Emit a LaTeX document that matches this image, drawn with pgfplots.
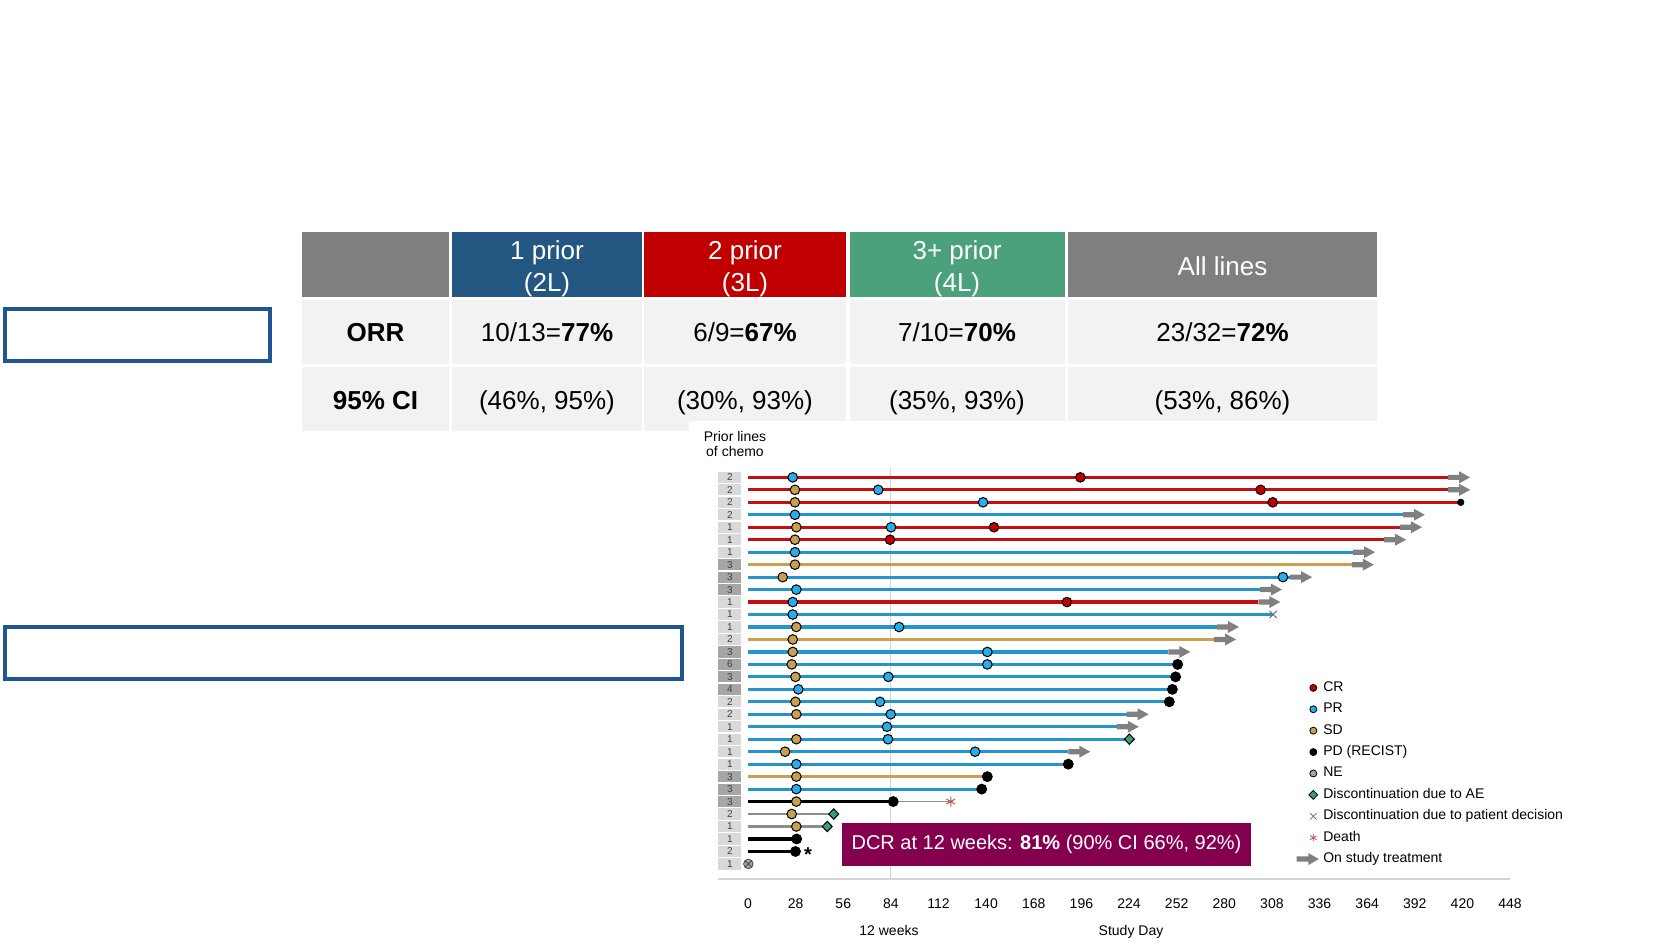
\documentclass[border=0pt]{standalone}
\usepackage{pgfplots}
\pgfplotsset{compat=1.18}
\usetikzlibrary{plotmarks}
\usepackage{fontspec}
\setmainfont{Liberation Sans}

\definecolor{crred}{HTML}{C00000}
\definecolor{prblue}{HTML}{2AACE8}
\definecolor{sdgold}{HTML}{C9A04F}
\definecolor{negray}{HTML}{A6A6A6}
\definecolor{lnred}{HTML}{C41010}
\definecolor{lnblue}{HTML}{2394CE}
\definecolor{lngold}{HTML}{C9A050}
\definecolor{lngray}{HTML}{8C8C8C}
\definecolor{arrgray}{HTML}{808080}
\definecolor{aegreen}{HTML}{3F9B76}
\definecolor{deathred}{HTML}{C0504D}
\definecolor{dcrpurple}{HTML}{84004F}
\definecolor{boxblue}{HTML}{1F5591}
\definecolor{pllight}{HTML}{D9D9D9}
\definecolor{pldark}{HTML}{A6A6A6}
\definecolor{axgray}{HTML}{D4D4D4}
\definecolor{hdgray}{HTML}{7F7F7F}
\definecolor{hdblue}{HTML}{245682}
\definecolor{hdred}{HTML}{C00000}
\definecolor{hdgreen}{HTML}{4BA17C}
\definecolor{cellgray}{HTML}{F2F2F2}

% block arrow for "on study treatment"
\pgfdeclareplotmark{onstudy}{%
  \pgfpathmoveto{\pgfpoint{0pt}{1.3pt}}%
  \pgfpathlineto{\pgfpoint{5.5pt}{1.3pt}}%
  \pgfpathlineto{\pgfpoint{5.5pt}{3pt}}%
  \pgfpathlineto{\pgfpoint{11pt}{0pt}}%
  \pgfpathlineto{\pgfpoint{5.5pt}{-3pt}}%
  \pgfpathlineto{\pgfpoint{5.5pt}{-1.3pt}}%
  \pgfpathlineto{\pgfpoint{0pt}{-1.3pt}}%
  \pgfpathclose
  \pgfusepathqfill}

% prior-lines label boxes
\newcommand{\plin}[1]{\parbox[c][5.6pt][c]{11.5pt}{\centering\fontsize{5}{5}\selectfont\color{black!75}#1}}
\newcommand{\pl}[1]{{\setlength{\fboxsep}{0pt}\ifnum#1>2\relax\colorbox{pldark}{\plin{#1}}\else\colorbox{pllight}{\plin{#1}}\fi}}
% fixed legend image frame
\newcommand{\lgbox}{\path[draw=none,fill=none] (-8.3pt,-3pt) rectangle (3pt,3pt);}

\begin{document}
\begin{tikzpicture}
\useasboundingbox (0,0) rectangle (840pt,-472.5pt);
\fill[white] (0,0) rectangle (840pt,-472.5pt);

\begin{scope}[x=0.5pt,y=-0.5pt]
% left outline boxes
\draw[boxblue, line width=1.7pt] (5,309) rectangle (270,361);
\draw[boxblue, line width=1.7pt] (5,627) rectangle (682,679);
% table
\fill[hdgray]  (302,232) rectangle (449,297);
\fill[hdblue]  (452,232) rectangle (642,297);
\fill[hdred]   (644,232) rectangle (846,297);
\fill[hdgreen] (850,232) rectangle (1065,297);
\fill[hdgray]  (1068,232) rectangle (1377,297);
\foreach \a/\b in {302/449,452/642,644/846,850/1065,1068/1377}{
  \fill[cellgray] (\a,300) rectangle (\b,364);
  \fill[cellgray] (\a,367) rectangle (\b,431);
}
\fill[white] (689,421) rectangle (1380,433);
\begin{scope}[every node/.style={font=\fontsize{13}{15}\selectfont, anchor=base, inner sep=0pt}]
\node[white] at (547,259.5) {1 prior};
\node[white] at (547,291.5) {(2L)};
\node[white] at (745,259.5) {2 prior};
\node[white] at (745,291.5) {(3L)};
\node[white] at (957,259.5) {3+ prior};
\node[white] at (957,291.5) {(4L)};
\node[white] at (1222.5,275.7) {All lines};
\node at (375.5,341.7) {\textbf{ORR}};
\node at (547,341.7) {10/13=\textbf{77\%}};
\node at (745,341.7) {6/9=\textbf{67\%}};
\node at (957,341.7) {7/10=\textbf{70\%}};
\node at (1222.5,341.7) {23/32=\textbf{72\%}};
\node at (375.5,410) {\textbf{95\% CI}};
\node at (547,410) {(46\%, 95\%)};
\node at (745,410) {(30\%, 93\%)};
\node at (957,410) {(35\%, 93\%)};
\node at (1222.5,410) {(53\%, 86\%)};
\end{scope}
\node[align=center, font=\fontsize{7}{7.5}\selectfont, inner sep=0pt] at (735,444) {Prior lines\\of chemo};
\end{scope}

\begin{axis}[
  at={(359pt,-232.45pt)}, anchor=north west,
  scale only axis, width=396pt, height=206.8pt,
  xmin=-17.64, xmax=448, ymin=-33.17, ymax=0,
  axis x line*=bottom, axis y line*=left,
  x axis line style={-, draw=axgray, line width=1pt},
  y axis line style={draw=none},
  xtick={0,28,...,448},
  ytick={-32,-31,...,-1},
  yticklabels={\pl{1},\pl{2},\pl{1},\pl{1},\pl{2},\pl{3},\pl{3},\pl{3},\pl{1},\pl{1},\pl{1},\pl{1},\pl{2},\pl{2},\pl{4},\pl{3},\pl{6},\pl{3},\pl{2},\pl{1},\pl{1},\pl{1},\pl{3},\pl{3},\pl{3},\pl{1},\pl{1},\pl{1},\pl{2},\pl{2},\pl{2},\pl{2}},
  major tick length=0pt,
  xticklabel style={font=\fontsize{7}{8}\selectfont, yshift=-6.75pt},
  yticklabel style={anchor=west, inner sep=0pt},
  /pgf/number format/assume math mode=true,
  unbounded coords=jump,
  clip=false,
  legend cell align=left,
  legend style={at={(axis cs:322.6,-17.2)}, anchor=north west, draw=none, fill=none,
    inner sep=0pt, outer sep=0pt, font=\fontsize{7}{8}\selectfont,
    row sep=2.2pt, column sep=1pt,
    nodes={inner sep=1pt, text height=5pt, text depth=1.5pt}},
]
% 12 week reference line
\addplot[forget plot, draw=axgray, line width=0.6pt] coordinates {(84,-0.17) (84,-33.17)};

% treatment duration lines, by best response
\addplot[forget plot, draw=lnred, line width=1.6pt] coordinates {
 (0,-1) (411.6,-1) (nan,nan) (0,-2) (411.6,-2) (nan,nan) (0,-3) (419,-3) (nan,nan)
 (0,-5) (383.3,-5) (nan,nan) (0,-6) (374,-6) (nan,nan) (0,-11) (300,-11)};
\addplot[forget plot, draw=lnblue, line width=1.6pt] coordinates {
 (0,-4) (385,-4) (nan,nan) (0,-7) (355.7,-7) (nan,nan) (0,-9) (318.7,-9) (nan,nan)
 (0,-10) (301,-10) (nan,nan) (0,-12) (308.7,-12) (nan,nan) (0,-13) (275.7,-13) (nan,nan)
 (0,-15) (247.1,-15) (nan,nan) (0,-16) (252.6,-16) (nan,nan) (0,-17) (251.4,-17) (nan,nan)
 (0,-18) (249.5,-18) (nan,nan) (0,-19) (247.7,-19) (nan,nan) (0,-20) (222.6,-20) (nan,nan)
 (0,-21) (216.8,-21) (nan,nan) (0,-22) (224.2,-22) (nan,nan) (0,-23) (188.3,-23) (nan,nan)
 (0,-24) (188.3,-24) (nan,nan) (0,-26) (137.4,-26)};
\addplot[forget plot, draw=lngold, line width=1.6pt] coordinates {
 (0,-8) (355,-8) (nan,nan) (0,-14) (274,-14) (nan,nan) (0,-25) (140.7,-25)};
\addplot[forget plot, draw=black, line width=1.8pt] coordinates {
 (0,-27) (85.4,-27) (nan,nan) (0,-30) (28.6,-30) (nan,nan) (0,-31) (27.9,-31)};
\addplot[forget plot, draw=lngray, line width=1.4pt] coordinates {
 (0,-28) (50.4,-28) (nan,nan) (0,-29) (46.6,-29)};
\addplot[forget plot, draw=lngray, line width=0.6pt] coordinates {(85.4,-27) (119.2,-27)};

% on study treatment
\addplot[forget plot, only marks, mark=onstudy, color=arrgray] coordinates {
 (411.6,-1) (411.6,-2) (385,-4) (383.3,-5) (374,-6) (355.7,-7) (355,-8) (318.7,-9)
 (301,-10) (300,-11) (275.7,-13) (274,-14) (247.1,-15) (222.6,-20) (216.8,-21) (188.3,-23)};

% responses
\addplot[forget plot, only marks, mark=*, mark size=2.4pt, mark options={fill=sdgold, draw=black, line width=0.5pt}] coordinates {
 (27.6,-2) (27.6,-3) (28.4,-5) (27.6,-6) (27.6,-8) (20.4,-9) (28.4,-13) (26.3,-14)
 (26.3,-15) (25.7,-16) (27.9,-17) (27.9,-19) (28.4,-20) (28.4,-22) (21.8,-23) (28.4,-25)
 (28.4,-27) (25.7,-28) (28.4,-29)};
\addplot[forget plot, only marks, mark=*, mark size=2.4pt, mark options={fill=prblue, draw=black, line width=0.5pt}] coordinates {
 (26.3,-1) (76.6,-2) (138.2,-3) (27.6,-4) (84.1,-5) (27.6,-7) (314.5,-9) (28.4,-10)
 (26.3,-11) (26.3,-12) (88.8,-13) (140.7,-15) (140.7,-16) (82.5,-17) (29.6,-18) (77.6,-19)
 (83.9,-20) (81.7,-21) (82.3,-22) (133.5,-23) (28.4,-24) (28.4,-26)};
\addplot[forget plot, only marks, mark=*, mark size=2.4pt, mark options={fill=crred, draw=black, line width=0.5pt}] coordinates {
 (195.4,-1) (301.4,-2) (308.5,-3) (144.6,-5) (83.5,-6) (187.5,-11)};
\addplot[forget plot, only marks, mark=*, mark size=2.5pt, mark options={fill=black, draw=black}] coordinates {
 (252.6,-16) (251.4,-17) (249.5,-18) (247.7,-19) (188.3,-24) (140.7,-25) (137.4,-26)
 (85.4,-27) (28.6,-30) (27.9,-31)};
\addplot[forget plot, only marks, mark=*, mark size=1.6pt, mark options={fill=black, draw=black}] coordinates {(419,-3)};
\addplot[forget plot, only marks, mark=otimes*, mark size=2.4pt, mark options={fill=negray, draw=black!70, line width=0.4pt}] coordinates {(0.2,-32)};
\addplot[forget plot, only marks, mark=diamond*, mark size=2.6pt, mark options={fill=aegreen, draw=black, line width=0.5pt, xscale=1.28}] coordinates {
 (224.2,-22) (50.4,-28) (46.6,-29)};
\addplot[forget plot, only marks, mark=x, mark size=2.5pt, mark options={draw=black!55, line width=0.5pt}] coordinates {(308.7,-12)};
\addplot[forget plot, only marks, mark=asterisk, mark size=2.5pt, mark options={draw=deathred, line width=0.5pt}] coordinates {(119.2,-27)};

% legend
\addlegendimage{legend image code/.code={\lgbox \draw[fill=crred, draw=black, line width=0.4pt] (0,0) circle (1.75pt);}}
\addlegendentry{CR}
\addlegendimage{legend image code/.code={\lgbox \draw[fill=prblue, draw=black, line width=0.4pt] (0,0) circle (1.75pt);}}
\addlegendentry{PR}
\addlegendimage{legend image code/.code={\lgbox \draw[fill=sdgold, draw=black, line width=0.4pt] (0,0) circle (1.75pt);}}
\addlegendentry{SD}
\addlegendimage{legend image code/.code={\lgbox \draw[fill=black, draw=black, line width=0.4pt] (0,0) circle (1.75pt);}}
\addlegendentry{PD (RECIST)}
\addlegendimage{legend image code/.code={\lgbox \draw[fill=negray, draw=black, line width=0.4pt] (0,0) circle (1.75pt);}}
\addlegendentry{NE}
\addlegendimage{legend image code/.code={\lgbox \draw[fill=aegreen, draw=black, line width=0.4pt] (0,2.2pt) -- (2.2pt,0) -- (0,-2.2pt) -- (-2.2pt,0) -- cycle;}}
\addlegendentry{Discontinuation due to AE}
\addlegendimage{legend image code/.code={\lgbox \draw[draw=black!55, fill=none, line width=0.4pt] (-1.6pt,-1.6pt) -- (1.6pt,1.6pt) (-1.6pt,1.6pt) -- (1.6pt,-1.6pt);}}
\addlegendentry{Discontinuation due to patient decision}
\addlegendimage{legend image code/.code={\lgbox \draw[draw=deathred, fill=none, line width=0.4pt] (0,-1.8pt) -- (0,1.8pt) (-1.6pt,-1pt) -- (1.6pt,1pt) (-1.6pt,1pt) -- (1.6pt,-1pt);}}
\addlegendentry{Death}
\addlegendimage{legend image code/.code={\lgbox \fill[arrgray, draw=none] (-8.3pt,1.3pt) -- (-2.5pt,1.3pt) -- (-2.5pt,3pt) -- (2.8pt,0pt) -- (-2.5pt,-3pt) -- (-2.5pt,-1.3pt) -- (-8.3pt,-1.3pt) -- cycle;}}
\addlegendentry{On study treatment}
\end{axis}

\begin{scope}[x=0.5pt,y=-0.5pt]
\node[font=\fontsize{10}{10}\selectfont\bfseries, inner sep=0pt] at (808,855) {*};
\node[font=\fontsize{7}{8}\selectfont] at (889,930) {12 weeks};
\node[font=\fontsize{7}{8}\selectfont] at (1131,932) {Study Day};
\node[fill=dcrpurple, text=white, minimum width=204.5pt, minimum height=21.5pt, inner sep=0pt,
  font=\fontsize{10}{12}\selectfont] at (1046.5,844.5) {DCR at 12 weeks: \textbf{81\%} (90\% CI 66\%, 92\%)};
\end{scope}
\end{tikzpicture}
\end{document}
